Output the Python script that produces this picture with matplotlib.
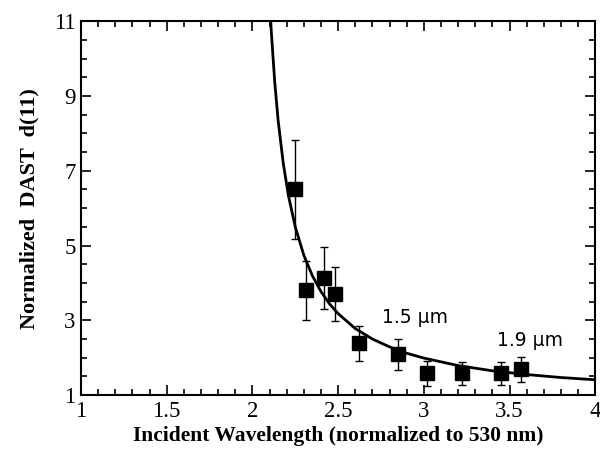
import matplotlib.pyplot as plt
from matplotlib.ticker import MultipleLocator

# measured points (normalized wavelength, normalized d11, error)
wl = [2.25, 2.31, 2.42, 2.48, 2.62, 2.85, 3.02, 3.22, 3.45, 3.57]
d11 = [6.5, 3.8, 4.12, 3.7, 2.38, 2.09, 1.58, 1.58, 1.58, 1.69]
err = [1.32, 0.78, 0.83, 0.73, 0.48, 0.42, 0.34, 0.30, 0.30, 0.34]

# fitted curve
fit_x = [2.10, 2.11, 2.13, 2.15, 2.18, 2.21, 2.25, 2.30, 2.35, 2.40, 2.45, 2.50,
         2.60, 2.70, 2.80, 2.90, 3.00, 3.20, 3.40, 3.60, 3.80, 4.00]
fit_y = [11.58, 10.74, 9.39, 8.35, 7.20, 6.34, 5.50, 4.74, 4.19, 3.77, 3.44, 3.18,
         2.78, 2.50, 2.29, 2.12, 1.99, 1.79, 1.65, 1.55, 1.47, 1.41]

xticks = [1, 1.5, 2, 2.5, 3, 3.5, 4]
xticklabels = ['1', '1.5', '2', '2.5', '3', '3.5', '4']
yticks = [1, 3, 5, 7, 9, 11]

labels = [(2.95, 3.07, '1.5 μm'), (3.62, 2.45, '1.9 μm')]

serif = ['Liberation Serif', 'DejaVu Serif']

fig = plt.figure(figsize=(6, 4.5), dpi=100)
ax = fig.add_axes([0.135, 0.122, 0.857, 0.831])

ax.plot(fit_x, fit_y, color='black', lw=2)
ax.errorbar(wl, d11, yerr=err, fmt='s', color='black', ms=10,
            ecolor='black', elinewidth=1, capsize=3, capthick=1)

for x, y, t in labels:
    ax.text(x, y, t, ha='center', va='center', fontsize=13.5,
            family=['DejaVu Sans'])

ax.set_xlim(1, 4)
ax.set_ylim(1, 11)
ax.set_xticks(xticks)
ax.set_xticklabels(xticklabels)
ax.set_yticks(yticks)
ax.set_yticklabels([str(v) for v in yticks])
ax.xaxis.set_minor_locator(MultipleLocator(0.1))
ax.yaxis.set_minor_locator(MultipleLocator(0.5))

ax.tick_params(which='both', direction='in', top=True, right=True, width=1.2)
ax.tick_params(which='major', length=7, labelsize=16.5, pad=4)
ax.tick_params(which='minor', length=4)
for lab in ax.get_xticklabels() + ax.get_yticklabels():
    lab.set_family(serif)
for s in ax.spines.values():
    s.set_linewidth(1.5)

ax.set_xlabel('Incident Wavelength (normalized to 530 nm)', fontsize=15.5,
              fontweight='bold', family=serif, labelpad=3)
ax.set_ylabel('Normalized  DAST  d(11)', fontsize=16,
              fontweight='bold', family=serif, labelpad=10)

fig.savefig('out.png', dpi=100)
